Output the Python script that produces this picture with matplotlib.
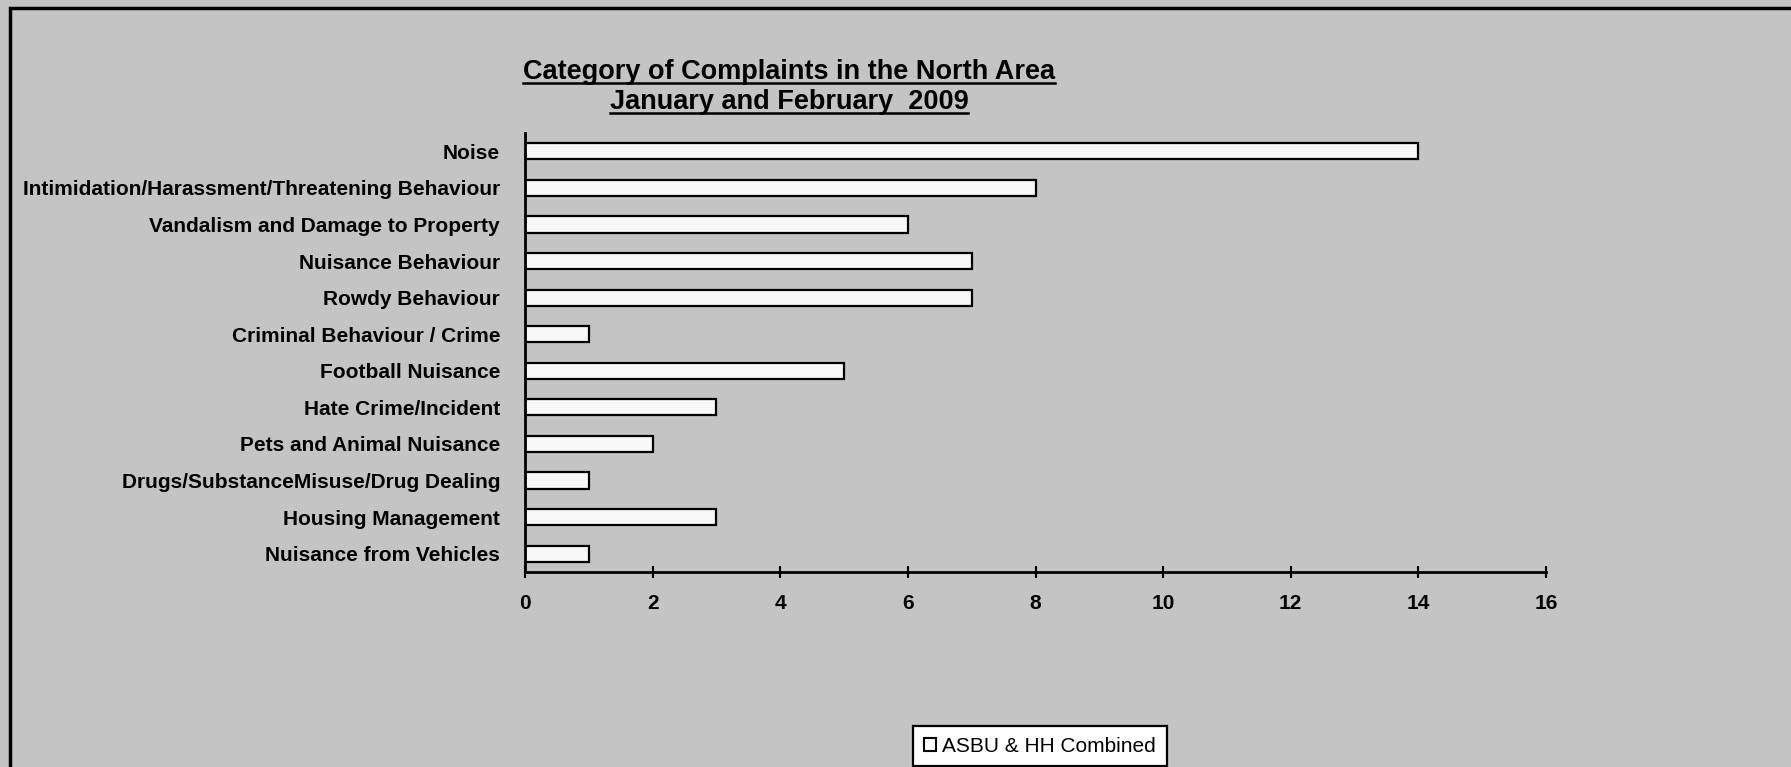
import matplotlib
matplotlib.use('Agg')
import matplotlib.pyplot as plt
from matplotlib.patches import Rectangle, Patch

plt.rcParams['font.family'] = ['Liberation Sans', 'DejaVu Sans']

categories = ['Noise', 'Intimidation/Harassment/Threatening Behaviour',
              'Vandalism and Damage to Property', 'Nuisance Behaviour',
              'Rowdy Behaviour', 'Criminal Behaviour / Crime', 'Football Nuisance',
              'Hate Crime/Incident', 'Pets and Animal Nuisance',
              'Drugs/SubstanceMisuse/Drug Dealing', 'Housing Management',
              'Nuisance from Vehicles']
counts = [14, 8, 6, 7, 7, 1, 5, 3, 2, 1, 3, 1]
x_ticks = [0, 2, 4, 6, 8, 10, 12, 14, 16]
series_name = 'ASBU & HH Combined'

bg = '#C4C4C4'
W, H = 1791, 767
fig = plt.figure(figsize=(W / 100, H / 100), dpi=100, facecolor=bg)

# outer chart border
fig.patches.append(Rectangle((10 / W, -0.01), 1.0, 1 - 8 / H + 0.01, transform=fig.transFigure,
                             fill=False, edgecolor='black', linewidth=2.5))

ax = fig.add_axes([525 / W, 1 - 572 / H, (1546 - 525) / W, (572 - 133) / H])
ax.set_facecolor(bg)

ypos = list(range(len(categories)))
ax.barh(ypos, counts, height=0.44, color='#F8F8F8', edgecolor='black', linewidth=1.6)

ax.set_ylim(len(categories) - 0.5, -0.5)
ax.set_xlim(0, 16)
ax.set_xticks(x_ticks)
ax.set_xticklabels([str(t) for t in x_ticks], fontsize=15, fontweight='bold')
ax.set_yticks(ypos)
ax.set_yticklabels(categories, fontsize=15, fontweight='bold')
ax.tick_params(axis='y', length=0, pad=18)
ax.tick_params(axis='x', direction='inout', length=8, width=1.5, pad=12)
for s in ['top', 'right']:
    ax.spines[s].set_visible(False)
for s in ['left', 'bottom']:
    ax.spines[s].set_linewidth(2)

# title, two underlined lines
t1 = fig.text(789 / W, 1 - 72 / H, 'Category of Complaints in the North Area', ha='center',
              va='center', fontsize=19.5, fontweight='bold')
t2 = fig.text(789 / W, 1 - 102 / H, 'January and February  2009', ha='center',
              va='center', fontsize=19.5, fontweight='bold')

fig.canvas.draw()
r = fig.canvas.get_renderer()
for t in (t1, t2):
    bb = t.get_window_extent(r).transformed(fig.transFigure.inverted())
    fig.add_artist(plt.Line2D([bb.x0, bb.x1], [bb.y0 + 0.003, bb.y0 + 0.003],
                              transform=fig.transFigure, color='black', linewidth=1.8))

leg = fig.legend(handles=[Patch(facecolor='white', edgecolor='black', linewidth=1.5, label=series_name)],
                 loc='upper center', bbox_to_anchor=(1040 / W, 1 - 716 / H), fontsize=15,
                 frameon=True, fancybox=False, edgecolor='black', framealpha=1,
                 handlelength=0.6, handleheight=0.6, handletextpad=0.3, borderpad=0.5)
leg.get_frame().set_linewidth(1.6)

fig.savefig('out.png', dpi=100, facecolor=bg)
